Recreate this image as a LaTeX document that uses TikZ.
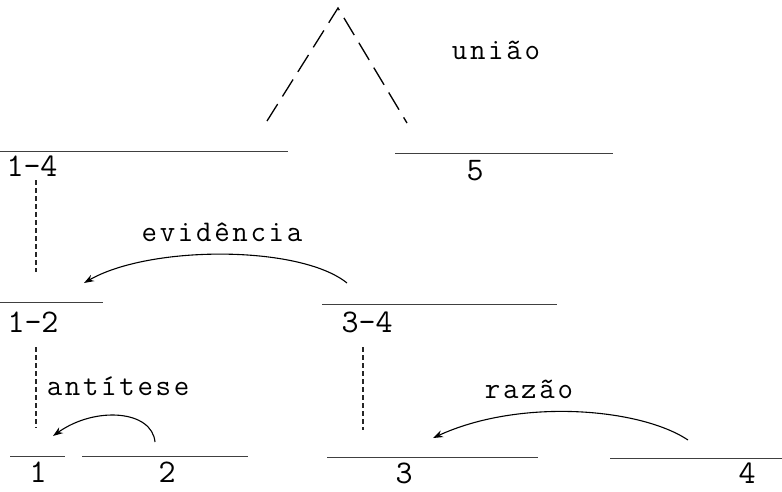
\documentclass[tikz,border=0pt]{standalone}
\usepackage{fontspec}
\usepackage{tikz}
\usetikzlibrary{arrows.meta}
\newfontfamily\typew[LetterSpace=9]{Latin Modern Mono}

\tikzset{
  seg/.style={draw=black!75, line width=0.9pt},
  num/.style={font=\ttfamily\fontsize{33}{35}\selectfont, inner sep=0pt},
  rel/.style={font=\typew\fontsize{30}{32}\selectfont, inner sep=0pt},
  nucline/.style={draw=black!85, line width=1.1pt, dash pattern=on 5pt off 3pt},
  nuc/.style={draw=black, line width=1.3pt, dash pattern=on 20pt off 9pt},
  arr/.style={draw=black, line width=1.1pt, -{Stealth[length=10pt,width=7pt]}}
}

\begin{document}
\begin{tikzpicture}[x=1pt,y=-1pt]
            \useasboundingbox (0,0) rectangle (782,491);

            % spans
            \coordinate (a14) at (0,151);   \coordinate (b14) at (288,151);
            \coordinate (a5) at (395,153);  \coordinate (b5) at (613,153);
            \coordinate (a12) at (0,302);   \coordinate (b12) at (103,302);
            \coordinate (a34) at (322,304); \coordinate (b34) at (557,304);
            \coordinate (a1) at (10,456);   \coordinate (b1) at (65,456);
            \coordinate (a2) at (82,456);   \coordinate (b2) at (248,456);
            \coordinate (a3) at (327,457);  \coordinate (b3) at (538,457);
            \coordinate (a4) at (610,458);  \coordinate (b4) at (782,458);

            \draw[seg] (a14) -- (b14);
            \draw[seg] (a5) -- (b5);
            \draw[seg] (a12) -- (b12);
            \draw[seg] (a34) -- (b34);
            \draw[seg] (a1) -- (b1);
            \draw[seg] (a2) -- (b2);
            \draw[seg] (a3) -- (b3);
            \draw[seg] (a4) -- (b4);

            \node[num] (n14) at (32,166) {1-4};
            \node[num] (n5) at (475,171) {5};
            \node[num] (n12) at (33,322) {1-2};
            \node[num] (n34) at (367,322) {3-4};
            \node[num] (n1) at (38,472) {1};
            \node[num] (n2) at (167,472) {2};
            \node[num] (n3) at (404,473) {3};
            \node[num] (n4) at (747,473) {4};

            % uniao
            \coordinate (top) at (338,8);
            \coordinate (tl) at (267,121);
            \coordinate (tr) at (407,123);
            \draw[nuc] (tl) -- (top) -- (tr);
            \node[rel] (uniao) at (496,50) {união};

            % nucleus lines
            \coordinate (d14) at (36,180);  \coordinate (e14) at (36,272);
            \coordinate (d12) at (36,347);  \coordinate (e12) at (36,428);
            \coordinate (d34) at (363,347); \coordinate (e34) at (363,430);
            \draw[nucline] (d14) -- (e14);
            \draw[nucline] (d12) -- (e12);
            \draw[nucline] (d34) -- (e34);

            % satellites
            \coordinate (ev0) at (347,283); \coordinate (ev1) at (84,283);
            \draw[arr] (ev0) .. controls (300,245) and (150,245) .. (ev1);
            \node[rel] (evid) at (222,232) {evidência};

            \coordinate (an0) at (155,442); \coordinate (an1) at (53,436);
            \draw[arr] (an0) .. controls (152,410) and (95,406) .. (an1);
            \node[rel] (antit) at (118,386) {antítese};

            \coordinate (rz0) at (688,440); \coordinate (rz1) at (433,438);
            \draw[arr] (rz0) .. controls (640,408) and (520,398) .. (rz1);
            \node[rel] (razao) at (529,389) {razão};
        \end{tikzpicture}
\end{document}
